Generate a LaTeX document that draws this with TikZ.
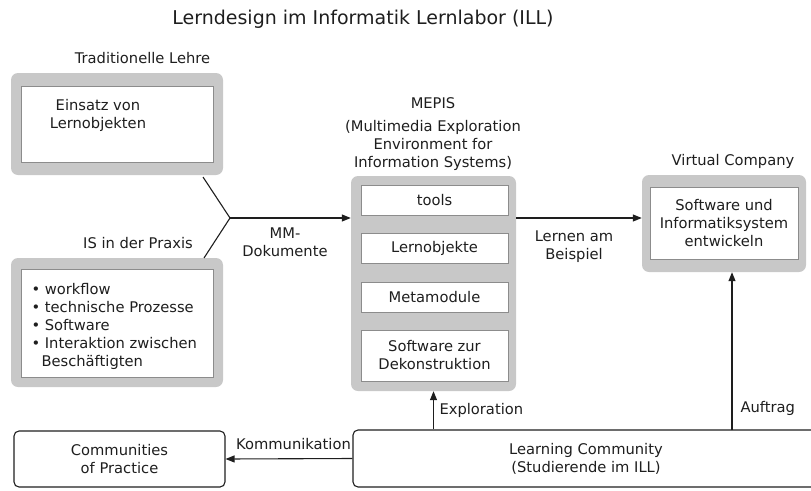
\documentclass[tikz,border=0pt]{standalone}
\usepackage{fontspec}
\setmainfont{DejaVu Sans}
\usetikzlibrary{arrows.meta}
\definecolor{framegray}{RGB}{200,200,200}
\definecolor{ink}{RGB}{30,30,30}
\begin{document}
\begin{tikzpicture}
  [x=1pt,y=-1pt,
   every node/.style={text=ink,font=\fontsize{14.7}{18}\selectfont,align=center},
   frame/.style={fill=framegray,rounded corners=7pt,inner sep=0pt},
   inset/.style={fill=white,draw=black!45,line width=0.6pt,inner sep=0pt},
   plainbox/.style={draw=ink,rounded corners=5pt,line width=1.1pt,inner sep=0pt},
   conn/.style={draw=ink,line width=1.1pt,-{Triangle[length=9pt,width=7pt]}},
   link/.style={draw=ink,line width=1.1pt}]
  \useasboundingbox (0,0) rectangle (811,490);
  \node (title) at (363,19) {\fontsize{19}{22}\selectfont Lerndesign im Informatik Lernlabor (ILL)};

  \node (lehrelabel) at (142.5,58) {Traditionelle Lehre};
  \node[frame,minimum width=212pt,minimum height=102pt] (lehre) at (117,124) {};
  \node[inset,minimum width=192pt,minimum height=76pt] (lehrein) at (117,124) {};
  \node (lehretext) at (98,115) {Einsatz von\\Lernobjekten};

  \node (praxislabel) at (138,243) {IS in der Praxis};
  \node[frame,minimum width=212pt,minimum height=129pt] (praxis) at (117,322.5) {};
  \node[inset,minimum width=192pt,minimum height=108pt] (praxisin) at (117,323) {};
  \node[anchor=west,align=left] (praxistext) at (28,326)
    {• workflow\\• technische Prozesse\\• Software\\• Interaktion zwischen\\\hspace*{10pt}Beschäftigten};

  \node (mepislabel) at (433,103) {MEPIS};
  \node (mepissub) at (433,145) {(Multimedia Exploration\\Environment for\\Information Systems)};
  \node[frame,minimum width=165pt,minimum height=215pt] (mepis) at (433.5,283.5) {};
  \node[inset,minimum width=147pt,minimum height=30pt] (tools) at (434.5,200) {tools};
  \node[inset,minimum width=147pt,minimum height=30pt] (lernobj) at (434.5,248) {Lernobjekte};
  \node[inset,minimum width=147pt,minimum height=30pt] (meta) at (434.5,297) {Metamodule};
  \node[inset,minimum width=147pt,minimum height=51pt] (dekon) at (434.5,355.5) {Software zur\\Dekonstruktion};

  \node (vclabel) at (733,161) {Virtual Company};
  \node[frame,minimum width=164pt,minimum height=97pt] (vc) at (724,223.5) {};
  \node[inset,minimum width=148pt,minimum height=72pt] (vcin) at (724,223) {Software und\\Informatiksystem\\entwickeln};

  \node[plainbox,minimum width=211pt,minimum height=56pt] (cop) at (119.5,459) {Communities\\of Practice};
  \node[plainbox,minimum width=466pt,minimum height=57pt] (lc) at (586,458.5) {Learning Community\\(Studierende im ILL)};

  \coordinate (fork) at (230,218);
  \coordinate (lehreend) at (203,177);
  \coordinate (praxisend) at (204,258);
  \coordinate (auftrag) at (732,430);

  \draw[link] (lehreend) -- (fork) -- (praxisend);
  \draw[conn] (fork) -- (mepis.west |- fork);
  \draw[conn] (mepis.east |- fork) -- (vc.west |- fork);
  \draw[conn] (lc.north -| mepis.south) -- (mepis.south);
  \draw[conn] (auftrag) -- (auftrag |- vc.south);
  \draw[conn] (lc.west) -- (cop.east);

  \node (mmlabel) at (285,242.5) {MM-\\Dokumente};
  \node (lernenlabel) at (574,246.5) {Lernen am\\Beispiel};
  \node[anchor=west] (explolabel) at (436,410) {Exploration};
  \node[anchor=west] (auftraglabel) at (737,408) {Auftrag};
  \node (kommlabel) at (293.5,444) {Kommunikation};
\end{tikzpicture}
\end{document}
